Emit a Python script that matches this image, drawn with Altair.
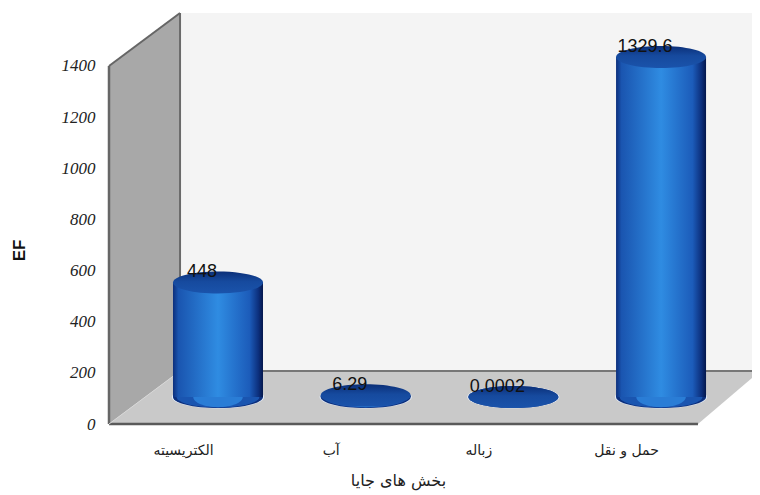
import altair as alt
import pandas as pd

categories = ["الکتریسیته", "آب", "زباله", "حمل و نقل"]
values = [448, 6.29, 0.0002, 1329.6]
value_labels = ["448", "6.29", "0.0002", "1329.6"]
y_ticks = [0, 200, 400, 600, 800, 1000, 1200, 1400]

# frame of the pseudo-3D box, in data units
x_left, x_back_left, x_front_right, x_right = -0.738, -0.257, 3.25, 3.67
y_floor_back, y_top_front, y_top = 207, 1400, 1607

bars = pd.DataFrame({
    "pos": list(range(len(categories))),
    "cat": categories,
    "value": values,
    "label": value_labels,
    "zero": [0] * len(categories),
})

xs = alt.Scale(domain=[x_left, x_right], nice=False, zero=False, padding=0)
ys = alt.Scale(domain=[0, y_top], nice=False, zero=False, padding=0)

label_expr = "[" + ",".join(f"'{c}'" for c in categories) + "][datum.value]"
ax_x = alt.Axis(
    values=list(range(len(categories))), labelExpr=label_expr, domain=False, ticks=False, grid=False,
    labelOffset=-35, labelPadding=19, labelFont="DejaVu Sans", labelFontSize=14, labelColor="#222222",
    labelAngle=0, title="بخش های جایا", titleFont="DejaVu Sans", titleFontSize=16, titleFontWeight="normal",
    titleColor="#222222", titleX=289, titleY=48)
ax_y = alt.Axis(
    values=y_ticks, format="d", domain=False, ticks=False, grid=False, labelPadding=14,
    labelFont="Liberation Serif", labelFontStyle="italic", labelFontSize=17, labelColor="#222222",
    title="EF", titleFont="Liberation Sans", titleFontSize=17, titleFontWeight="bold", titleColor="#111111",
    titleX=-81, titleY=237)

X = alt.X("x:Q", scale=xs, axis=ax_x)
Y = alt.Y("y:Q", scale=ys, axis=ax_y)
CX = alt.X("pos:Q", scale=xs, axis=ax_x)
CY = alt.Y("value:Q", scale=ys, axis=ax_y)
ZY = alt.Y("zero:Q", scale=ys, axis=ax_y)

back = alt.Chart(pd.DataFrame({"x": [x_back_left], "x2": [x_right], "y": [y_floor_back], "y2": [y_top]})).mark_rect(
    color="#f4f4f4", clip=False).encode(x=X, x2="x2:Q", y=Y, y2="y2:Q")

floor = alt.Chart(pd.DataFrame({"y": [0, y_floor_back], "x": [x_left, x_back_left], "x2": [x_front_right, x_right]})).mark_area(
    orient="horizontal", color="#c9c9c9").encode(x=X, x2="x2:Q", y=Y)

wall = alt.Chart(pd.DataFrame({"x": [x_left, x_back_left], "y": [0, y_floor_back], "y2": [y_top_front, y_top]})).mark_area(
    color="#a8a8a8").encode(x=X, y=Y, y2="y2:Q")

def line(px, py, color, w):
    return alt.Chart(pd.DataFrame({"x": px, "y": py})).mark_line(color=color, strokeWidth=w, clip=False).encode(x=X, y=Y)

lines = [
    line([x_back_left, x_right], [y_floor_back, y_floor_back], "#777777", 2),
    line([x_left, x_front_right], [0, 0], "#5a5a5a", 2.5),
    line([x_left, x_left], [0, y_top_front], "#666666", 2.5),
    line([x_back_left, x_back_left], [y_floor_back, y_top], "#6a6a6a", 2),
    line([x_left, x_back_left], [y_top_front, y_top], "#666666", 2),
    line([x_left, x_back_left], [0, y_floor_back], "#d8d8d8", 1),
]

def side_gradient():
    return alt.LinearGradient(gradient="linear", x1=0, x2=1, y1=0, y2=0, stops=[
        alt.GradientStop(offset=0, color="#0c2f7c"),
        alt.GradientStop(offset=0.06, color="#1a55b0"),
        alt.GradientStop(offset=0.5, color="#2f8ce2"),
        alt.GradientStop(offset=0.85, color="#1c5cba"),
        alt.GradientStop(offset=0.95, color="#0c2f7c"),
        alt.GradientStop(offset=1, color="#04174c"),
    ])

cap_grad = alt.LinearGradient(gradient="linear", x1=0, x2=0, y1=0, y2=1, stops=[
    alt.GradientStop(offset=0, color="#0b2f78"),
    alt.GradientStop(offset=0.45, color="#164a9e"),
    alt.GradientStop(offset=1, color="#1a53ab"),
])

def ellipse(rx, ry=0.245):
    return f"M-{rx},0A{rx},{ry},0,1,1,{rx},0A{rx},{ry},0,1,1,-{rx},0Z"

ELLIPSE = ellipse(1)
OFFSET = -27
CAP_SIZE = 8100
HALO_SIZE = 8500

halo = alt.Chart(bars).mark_point(
    shape=ELLIPSE, size=HALO_SIZE, filled=True, opacity=1, fill="#e6eefa", yOffset=OFFSET
).encode(x=CX, y=ZY)

def base_layer(rx, ry, color):
    return alt.Chart(bars).mark_point(
        shape=ellipse(rx, ry), size=CAP_SIZE, filled=True, opacity=1, color=color, yOffset=OFFSET
    ).encode(x=CX, y=ZY)

base_layers = [
    base_layer(1, 0.245, "#0c2f7c"),
    base_layer(0.92, 0.235, "#1a55b0"),
    base_layer(0.55, 0.225, "#2a7dd6"),
]

body = alt.Chart(bars).mark_bar(fill=side_gradient(), size=90, yOffset=OFFSET, y2Offset=OFFSET).encode(
    x=CX, y=CY, y2=alt.Y2("zero:Q"))

cap = alt.Chart(bars).mark_point(
    shape=ELLIPSE, size=CAP_SIZE, filled=True, opacity=1, fill=cap_grad, yOffset=OFFSET
).encode(x=CX, y=CY)

text = alt.Chart(bars).mark_text(
    font="Liberation Sans", fontSize=18, color="#111111", dx=-16, dy=OFFSET - 10, baseline="middle"
).encode(x=CX, y=CY, text="label:N")

chart = alt.layer(back, floor, wall, *lines, halo, *base_layers, body, cap, text).properties(
    width=651, height=411,
    padding={"left": 101, "top": 5, "right": -8, "bottom": 70},
    autosize=alt.AutoSizeParams(type="none"),
    background="#ffffff",
).configure_view(stroke=None)

chart.save("out.html", embed_options={"renderer": "svg", "actions": False})
